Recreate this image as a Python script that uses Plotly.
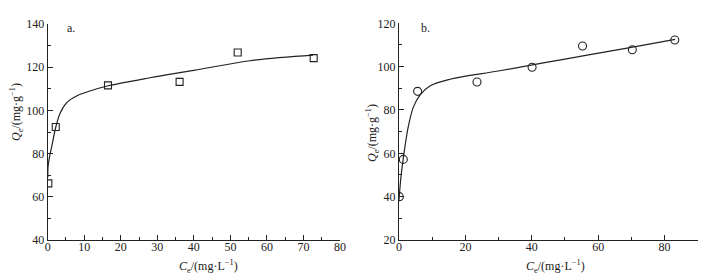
import plotly.graph_objects as go

# Panel a data (squares) and fitted curve
a_x = [0.17, 2.2, 16.5, 36.1, 52.0, 72.8]
a_y = [66.2, 92.3, 111.6, 113.2, 126.8, 124.2]
a_fit_x = [0.05, 0.1, 0.5, 1.1, 2.2, 3.4, 5.2, 7.9, 11.6, 16.6, 28, 40, 55.3, 72.6]
a_fit_y = [69, 74, 78.5, 83.2, 92.2, 98.7, 103.6, 106.7, 109, 111.4, 115.1, 118.5, 123, 125.6]

# Panel b data (circles) and fitted curve
b_x = [0.1, 1.3, 5.6, 23.5, 40.1, 55.3, 70.3, 83.1]
b_y = [40, 57.2, 88.6, 92.9, 99.7, 109.5, 107.8, 112.3]
b_fit_x = [0.0, 0.6, 1.5, 2.8, 4.3, 6.3, 9.3, 15.4, 30.4, 50, 70, 83.2]
b_fit_y = [38.5, 49.2, 60, 72.3, 81.2, 86.9, 91.1, 94.2, 98.1, 103.5, 108.9, 112.6]

# The page body has an 8px default margin, so the figure is offset by 8px.
OFF = 8
W, H = 716 - OFF, 279 - OFF
FONT = "Liberation Serif, Times New Roman, serif"
INK = "#222"

def px(x):
    return (x - OFF) / W

def py(y):
    return 1 - (y - OFF) / H

fig = go.Figure()
fig.add_trace(go.Scatter(x=a_fit_x, y=a_fit_y, mode="lines", line=dict(color=INK, width=1.2, shape="spline"),
                         xaxis="x", yaxis="y", showlegend=False))
fig.add_trace(go.Scatter(x=a_x, y=a_y, mode="markers",
                         marker=dict(symbol="square-open", size=7, color=INK, line=dict(width=1.1)),
                         xaxis="x", yaxis="y", showlegend=False))
fig.add_trace(go.Scatter(x=b_fit_x, y=b_fit_y, mode="lines", line=dict(color=INK, width=1.2, shape="spline"),
                         xaxis="x2", yaxis="y2", showlegend=False))
fig.add_trace(go.Scatter(x=b_x, y=b_y, mode="markers",
                         marker=dict(symbol="circle-open", size=8, color=INK, line=dict(width=1.1)),
                         xaxis="x2", yaxis="y2", showlegend=False))

common = dict(showgrid=False, zeroline=False, showline=True, linecolor=INK, linewidth=1.2,
              ticks="inside", ticklen=5, tickwidth=1, tickcolor=INK,
              tickfont=dict(family=FONT, size=12, color=INK), mirror=False, automargin=False)

fig.update_layout(
    width=W, height=H, margin=dict(l=0, r=0, t=0, b=0),
    plot_bgcolor="white", paper_bgcolor="white",
    xaxis=dict(domain=[px(47.7), px(340)], range=[0, 80], dtick=10, ticklabelstandoff=-5,
               minor=dict(ticks="inside", dtick=5, ticklen=3, tickcolor=INK), anchor="y", **common),
    yaxis=dict(domain=[py(240), py(24)], range=[40, 140], dtick=20,
               minor=dict(ticks="inside", dtick=10, ticklen=3, tickcolor=INK), anchor="x", **common),
    xaxis2=dict(domain=[px(399), px(697.7)], range=[0, 90], dtick=20, ticklabelstandoff=-5,
                minor=dict(ticks="inside", dtick=10, ticklen=3, tickcolor=INK), anchor="y2", **common),
    yaxis2=dict(domain=[py(240), py(23.3)], range=[20, 120], dtick=20,
                minor=dict(ticks="inside", dtick=10, ticklen=3, tickcolor=INK), anchor="x2", **common),
)

ann_font = dict(family=FONT, size=12, color=INK)
ann_common = dict(xref="paper", yref="paper", showarrow=False, xanchor="center", yanchor="middle", font=ann_font)
fig.add_annotation(x=px(208), y=py(266), text="<i>C</i><sub>e</sub>/(mg·L<sup>−1</sup>)", **ann_common)
fig.add_annotation(x=px(555), y=py(266), text="<i>C</i><sub>e</sub>/(mg·L<sup>−1</sup>)", **ann_common)
fig.add_annotation(x=px(16), y=py(112), textangle=-90, text="<i>Q</i><sub>e</sub>/(mg·g<sup>−1</sup>)", **ann_common)
fig.add_annotation(x=px(373), y=py(133), textangle=-90, text="<i>Q</i><sub>e</sub>/(mg·g<sup>−1</sup>)", **ann_common)
fig.add_annotation(x=px(71), y=py(28), text="a.", **ann_common)
fig.add_annotation(x=px(425), y=py(28), text="b.", **ann_common)

fig.write_html("out.html")
